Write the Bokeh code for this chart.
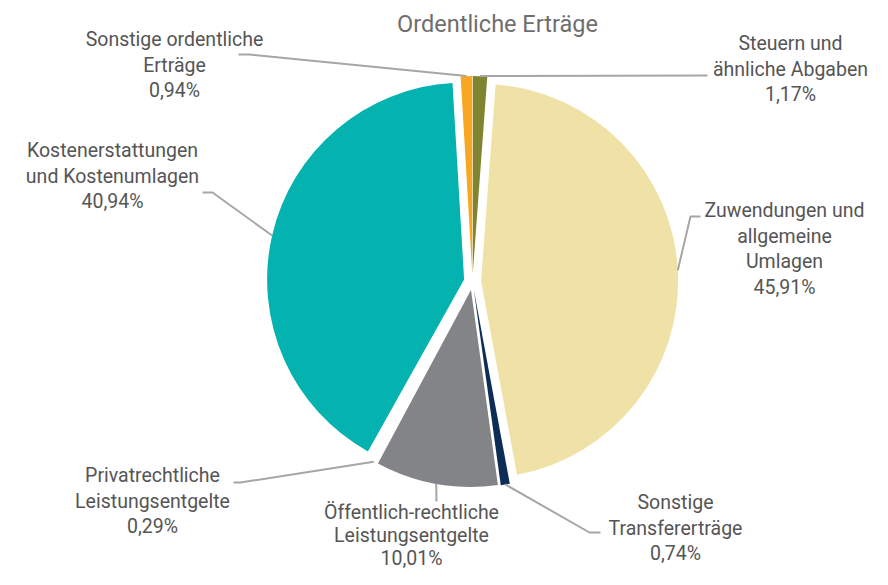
import numpy as np
from bokeh.plotting import figure
from bokeh.models import Range1d, ColumnDataSource
from bokeh.core.properties import value
from bokeh.embed import file_html
from bokeh.resources import INLINE

# ---- data ----
title_text = "Ordentliche Erträge"
categories = [
    "Steuern und ähnliche Abgaben",
    "Zuwendungen und allgemeine Umlagen",
    "Sonstige Transfererträge",
    "Öffentlich-rechtliche Leistungsentgelte",
    "Privatrechtliche Leistungsentgelte",
    "Kostenerstattungen und Kostenumlagen",
    "Sonstige ordentliche Erträge",
]
label_lines = [
    ["Steuern und", "ähnliche Abgaben"],
    ["Zuwendungen und", "allgemeine", "Umlagen"],
    ["Sonstige", "Transfererträge"],
    ["Öffentlich-rechtliche", "Leistungsentgelte"],
    ["Privatrechtliche", "Leistungsentgelte"],
    ["Kostenerstattungen", "und Kostenumlagen"],
    ["Sonstige ordentliche", "Erträge"],
]
shares = [1.17, 45.91, 0.74, 10.01, 0.29, 40.94, 0.94]
colors = ["#7f8431", "#f0e2a7", "#0c2d55", "#838488", "#ffffff", "#04b3af", "#f7a823"]

# ---- layout (image pixel coordinates, origin top-left of plot) ----
PW, PH = 872, 569
CX, CY_IMG = 472, 281
R, D = 197, 8.6
label_anchor = [(790, 43), (784, 210), (675, 502), (411, 512), (152, 475), (112, 150), (174, 39)]
line_h = [25.5, 25.5, 25.5, 23.0, 25.5, 25.5, 25.5]
leader_tail = [
    [(707, 75)],
    [(690, 216), (700, 216)],
    [(589, 532), (600, 532)],
    [(436, 501)],
    [(240, 482), (233, 482)],
    [(212, 192), (202, 192)],
    [(249, 54), (238, 54)],
]

def fy(y_img):
    return PH - y_img

CY = fy(CY_IMG)

vals = np.array(shares, dtype=float)
cum = np.concatenate([[0.0], np.cumsum(vals)]) / vals.sum()
start = np.pi / 2 - 2 * np.pi * cum[:-1]
end = np.pi / 2 - 2 * np.pi * cum[1:]
mid = (start + end) / 2

src = ColumnDataSource(dict(
    x=CX + D * np.cos(mid),
    y=CY + D * np.sin(mid),
    start=start, end=end, color=colors, name=categories,
))

p = figure(width=PW, height=PH, output_backend="svg", toolbar_location=None,
           x_range=Range1d(0, PW), y_range=Range1d(0, PH),
           x_axis_location=None, y_axis_location=None, min_border=0)
p.grid.visible = False
p.outline_line_color = None
p.background_fill_color = "white"
p.border_fill_color = "white"

p.wedge(x="x", y="y", radius=R, start_angle="start", end_angle="end",
        direction="clock", fill_color="color", line_color=None, source=src)

# leader lines
xs, ys = [], []
for i in range(len(vals)):
    sx = CX + (R + D) * np.cos(mid[i])
    sy = CY + (R + D) * np.sin(mid[i])
    px = [sx] + [pt[0] for pt in leader_tail[i]]
    py = [sy] + [fy(pt[1]) for pt in leader_tail[i]]
    xs.append(px)
    ys.append(py)
p.multi_line(xs=xs, ys=ys, line_color="#a6a6a6", line_width=2)

# labels
tx, ty, tt = [], [], []
for i in range(len(vals)):
    lines = label_lines[i] + [f"{vals[i]:.2f}".replace(".", ",") + "%"]
    ax, ay = label_anchor[i]
    for j, ln in enumerate(lines):
        tx.append(ax)
        ty.append(fy(ay + j * line_h[i]))
        tt.append(ln)
p.text(x=tx, y=ty, text=tt, text_align="center", text_baseline="middle",
       text_font=value("Roboto"), text_font_size="19.5px", text_color="#555555")

# title
p.text(x=[497], y=[fy(23)], text=[title_text], text_align="center", text_baseline="middle",
       text_font=value("Roboto"), text_font_size="23.5px", text_color="#6e6e6e")

open("out.html", "w").write(file_html(p, INLINE))
